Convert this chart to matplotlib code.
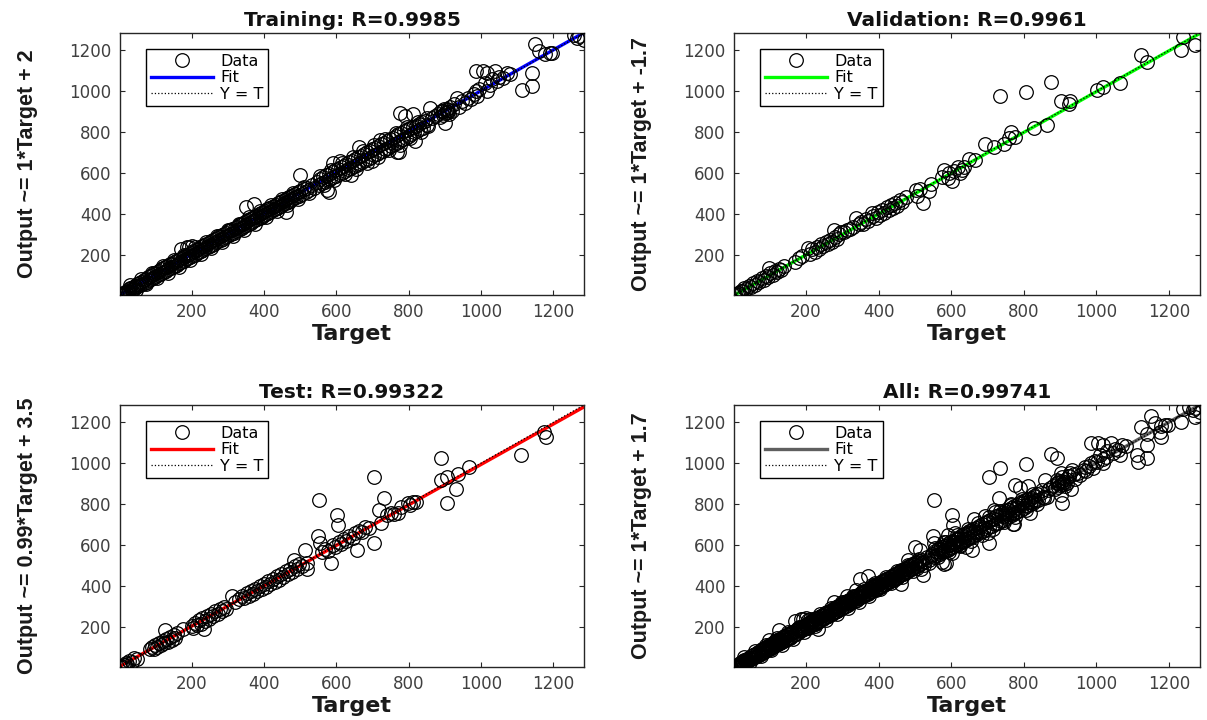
import numpy as np
import matplotlib
matplotlib.use("Agg")
import matplotlib.pyplot as plt
from matplotlib import font_manager

# ---------------- data ----------------
panel_titles = ["Training: R=0.9985", "Validation: R=0.9961", "Test: R=0.99322", "All: R=0.99741"]
ylabels = ["Output ~= 1*Target + 2", "Output ~= 1*Target + -1.7",
           "Output ~= 0.99*Target + 3.5", "Output ~= 1*Target + 1.7"]
fit_slopes = [1.0, 1.0, 0.99, 1.0]
fit_intercepts = [2.0, -1.7, 3.5, 1.7]
fit_colors = ["#0000ff", "#00ff00", "#ff0000", "#5f5f5f"]
tick_values = [200, 400, 600, 800, 1000, 1200]
axis_limits = [2, 1285]

train_pairs = [
    (2, 1), (4, 6), (6, 3), (8, 9), (10, 5), (12, 13), (14, 9), (16, 18), (18, 12), (20, 22),
    (23, 17), (26, 30), (28, 22), (31, 35), (34, 28), (37, 42), (40, 33), (43, 48), (46, 40), (49, 55),
    (52, 45), (55, 60), (58, 50), (61, 68), (64, 57), (67, 74), (70, 62), (73, 82), (76, 68), (79, 88),
    (82, 74), (85, 94), (88, 80), (91, 100), (94, 86), (97, 108), (100, 92), (103, 114), (106, 98), (109, 120),
    (112, 103), (115, 128), (118, 110), (121, 134), (124, 115), (127, 140), (130, 120), (133, 146), (136, 128), (139, 152),
    (142, 132), (145, 156), (148, 138), (151, 162), (154, 145), (157, 168), (160, 150), (163, 172), (166, 157), (169, 178),
    (171, 228), (186, 238), (193, 236), (200, 243),
    (172, 165), (175, 186), (178, 170), (181, 192), (184, 176), (187, 198), (190, 182), (193, 205), (196, 188), (199, 210),
    (202, 195), (205, 216), (208, 200), (211, 222), (214, 206), (217, 228), (220, 212), (223, 235), (226, 218), (229, 241),
    (232, 224), (235, 247), (238, 230), (241, 252), (244, 236), (247, 258), (250, 242), (253, 265), (256, 248), (259, 270),
    (262, 254), (265, 276), (268, 260), (271, 283), (274, 266), (277, 289), (280, 272), (283, 295), (286, 278), (289, 301),
    (292, 284), (295, 307), (298, 290), (301, 313), (304, 296), (307, 319), (310, 302), (313, 325), (316, 308), (319, 331),
    (322, 314), (325, 337), (328, 320), (331, 343), (334, 326), (337, 349), (340, 332), (343, 355), (346, 338), (349, 361),
    (352, 344), (355, 367), (358, 350), (361, 373), (364, 356), (367, 379), (370, 362), (373, 385), (376, 368), (379, 391),
    (382, 374), (385, 397), (388, 380), (391, 403), (394, 386), (397, 409), (400, 392), (403, 415), (406, 398), (409, 421),
    (412, 404), (415, 427), (418, 410), (421, 433), (424, 416), (427, 439), (430, 422), (433, 445), (436, 428), (439, 451),
    (442, 434), (445, 457), (448, 440), (451, 463), (454, 446), (457, 469), (460, 452), (463, 475), (466, 458), (469, 481),
    (472, 464), (475, 487), (478, 470), (481, 493), (484, 476), (487, 499), (490, 482), (493, 505), (496, 488), (500, 510),
    (505, 498), (510, 520), (515, 508), (520, 528), (525, 516), (532, 540), (538, 528),
    (30, 50), (45, 28), (60, 82), (75, 55), (90, 112), (105, 85), (120, 142), (135, 112), (150, 172), (165, 140),
    (180, 200), (195, 172), (210, 235), (225, 202), (240, 262), (255, 232), (270, 292), (285, 262), (300, 322), (315, 292),
    (330, 352), (345, 322), (360, 382), (375, 352), (390, 412), (405, 382), (420, 442), (435, 412), (450, 472), (465, 442),
    (480, 502), (495, 472), (510, 532), (525, 502),
    (350, 433), (372, 450), (462, 408), (500, 590),
    (548, 555), (552, 540), (556, 570), (560, 550), (564, 578), (568, 556), (572, 588), (576, 564), (580, 595), (584, 572),
    (588, 602), (592, 578), (596, 612), (600, 585), (604, 620), (608, 594), (612, 628), (616, 600), (620, 636), (624, 610),
    (628, 645), (632, 618), (636, 652), (640, 625), (644, 660), (648, 632), (652, 668), (656, 640), (660, 676), (664, 648),
    (668, 684), (672, 655), (676, 692), (680, 662), (684, 700), (688, 670), (692, 708), (696, 678), (700, 716), (704, 686),
    (708, 724), (712, 694), (716, 732), (720, 700), (724, 740), (728, 708), (732, 748), (736, 716), (740, 756), (744, 724),
    (748, 764), (752, 732), (756, 772), (760, 740), (764, 780), (768, 748), (772, 788), (776, 756), (780, 796), (784, 764),
    (788, 804), (792, 772), (796, 812), (800, 780), (804, 818), (808, 790), (812, 826), (816, 798), (820, 832), (824, 806),
    (828, 840), (832, 814), (836, 848), (840, 822), (846, 852), (852, 836),
    (555, 585), (565, 540), (585, 615), (595, 565), (615, 650), (625, 595), (645, 680), (655, 620), (675, 705), (685, 650),
    (705, 735), (715, 680), (735, 765), (745, 710), (765, 795), (775, 735), (795, 825), (805, 770), (825, 850), (835, 800),
    (850, 870), (855, 830),
    (574, 515), (579, 507), (590, 647), (610, 660), (640, 590), (663, 729), (700, 660), (720, 760), (769, 703), (774, 700),
    (775, 893), (790, 880), (812, 890), (817, 757),
    (859, 917), (866, 870), (872, 880), (880, 890), (886, 876), (890, 905), (895, 885), (901, 844), (905, 915), (910, 900),
    (895, 905), (900, 895), (905, 900), (910, 910), (898, 915), (912, 890),
    (915, 925), (920, 905), (925, 935), (933, 967), (940, 925), (948, 950), (955, 940), (965, 967), (972, 960), (980, 985),
    (986, 1000), (990, 975), (995, 1010), (986, 1098), (1005, 1098), (1018, 1090), (1018, 1000), (1010, 1040), (1025, 1030), (1030, 1060),
    (1039, 1098), (1045, 1050), (1050, 1070), (1060, 1065), (1071, 1090), (1080, 1085),
    (1113, 1008), (1140, 1024), (1140, 1090), (1150, 1231), (1161, 1197), (1177, 1180), (1190, 1185), (1197, 1189),
    (1256, 1276), (1272, 1271), (1285, 1250), (1265, 1262),
]

val_pairs = [
    (3, 3), (6, 8), (9, 5), (12, 14), (15, 11), (20, 22), (25, 20), (30, 34), (35, 30), (42, 45),
    (48, 40), (55, 60), (60, 52), (66, 70), (72, 64), (78, 84), (84, 76), (90, 95), (96, 88), (97, 136),
    (102, 108), (108, 100), (114, 120), (120, 114), (126, 130), (132, 126), (140, 144), (171, 165), (181, 181), (190, 195),
    (207, 232), (212, 205), (218, 225), (224, 214), (230, 238), (236, 228), (242, 252), (248, 240), (254, 262), (260, 250),
    (266, 272), (272, 262), (276, 322), (280, 288), (286, 276), (292, 300), (297, 309), (305, 312), (312, 320), (320, 325),
    (330, 335), (339, 381), (345, 350), (352, 360), (358, 348), (365, 372), (372, 362), (381, 405), (385, 390), (392, 380),
    (398, 410), (404, 395), (410, 420), (416, 405), (422, 432), (428, 418), (434, 445), (440, 430), (446, 452), (452, 440),
    (458, 465), (465, 455), (475, 480), (502, 518), (507, 486), (515, 520), (523, 453), (539, 510), (545, 545), (576, 582),
    (581, 614), (590, 575), (595, 600), (602, 558), (608, 610), (618, 630), (623, 598), (630, 615), (634, 630), (649, 670),
    (665, 665), (692, 739), (718, 726), (744, 742), (734, 975), (760, 771), (765, 799), (776, 775), (805, 996), (828, 820),
    (865, 836), (876, 1043), (902, 951), (923, 935), (928, 951), (1002, 1007), (1018, 1023), (1065, 1039), (1123, 1179), (1139, 1141),
    (1234, 1200), (1239, 1264), (1271, 1224),
]

test_pairs = [
    (3, 2), (6, 8), (9, 4), (12, 14), (15, 10), (18, 20), (22, 16), (28, 30), (34, 28), (42, 45),
    (48, 40), (85, 92), (90, 100), (95, 88), (100, 110), (105, 98), (110, 118), (115, 108), (120, 128), (126, 181),
    (125, 118), (130, 138), (135, 126), (140, 148), (145, 135), (150, 158), (155, 145), (160, 168), (177, 189), (200, 205),
    (205, 195), (210, 218), (215, 208), (220, 230), (225, 215), (230, 240), (234, 189), (236, 228), (242, 250), (248, 238),
    (254, 262), (260, 250), (266, 274), (272, 262), (278, 286), (284, 275), (290, 298), (296, 288), (312, 350), (320, 322),
    (332, 334), (340, 350), (346, 338), (352, 362), (358, 348), (364, 374), (370, 358), (376, 386), (382, 372), (388, 398),
    (394, 384), (400, 410), (406, 396), (412, 422), (418, 408), (424, 434), (430, 420), (436, 446), (442, 430), (448, 458),
    (454, 445), (460, 470), (466, 455), (472, 482), (478, 468), (482, 528), (485, 495), (492, 482), (498, 508), (505, 498),
    (513, 577), (518, 480), (520, 510), (549, 642), (552, 820), (554, 609), (560, 565), (570, 580), (578, 570), (585, 512),
    (590, 598), (596, 588), (601, 744), (604, 698), (608, 612), (614, 604), (620, 630), (628, 620), (636, 645), (645, 635),
    (652, 660), (658, 577), (662, 670), (672, 665), (680, 688), (690, 685), (704, 609), (704, 933), (718, 771), (724, 706),
    (731, 828), (740, 745), (750, 755), (760, 752), (771, 755), (780, 785), (797, 804), (805, 795), (812, 812), (820, 808),
    (890, 1027), (890, 917), (906, 933), (906, 804), (931, 876), (937, 949), (968, 981), (1112, 1038), (1174, 1155), (1179, 1127),
]

all_pairs = train_pairs + val_pairs + test_pairs
panel_data = [train_pairs, val_pairs, test_pairs, all_pairs]

# ---------------- style ----------------
plt.rcParams['font.family'] = ['DejaVu Sans']
names = {f.name for f in font_manager.fontManager.ttflist}
if 'Liberation Sans Narrow' in names:
    ylab_font = dict(family=['Liberation Sans Narrow', 'DejaVu Sans'], size=16, weight='bold')
else:
    ylab_font = dict(family=['Liberation Sans', 'DejaVu Sans'], size=15.5, weight='bold')

W, H = 1207, 720
fig = plt.figure(figsize=(W / 100, H / 100), dpi=100)

# axes boxes in pixels: (left, top, right, bottom)
boxes = [(120, 33, 584, 295), (734, 33, 1200, 295), (120, 405, 584, 667), (734, 405, 1200, 667)]

spine_col = '#262626'
tick_col = '#404040'

for i in range(4):
    l, t, r, b = boxes[i]
    ax = fig.add_axes([l / W, 1 - b / H, (r - l) / W, (b - t) / H])
    pairs = panel_data[i]
    tx = np.array([p[0] for p in pairs], dtype=float)
    oy = np.array([p[1] for p in pairs], dtype=float)

    lim = np.array(axis_limits, dtype=float)
    ax.plot(lim, fit_slopes[i] * lim + fit_intercepts[i], color=fit_colors[i], lw=2.4,
            zorder=2, label='Fit')
    ax.plot(tx, oy, 'o', ms=9.8, mfc='none', mec='black', mew=0.9, zorder=3, label='Data')
    ax.plot(lim, lim, ':', color='black', lw=0.9, zorder=4, label='Y = T')

    ax.set_xlim(*axis_limits)
    ax.set_ylim(*axis_limits)
    ax.set_xticks(tick_values)
    ax.set_yticks(tick_values)
    ax.tick_params(direction='in', length=3.5, width=0.8, top=True, right=True,
                   labelsize=12, labelcolor=tick_col, color=spine_col, pad=6)
    for s in ax.spines.values():
        s.set_color(spine_col)
        s.set_linewidth(1.0)

    ax.set_title(panel_titles[i], fontsize=14.5, fontweight='bold', pad=5, color='#111111')
    ax.set_xlabel('Target', fontsize=16, fontweight='bold', color='#1a1a1a')
    ax.xaxis.set_label_coords(0.5, -0.11)
    ax.set_ylabel(ylabels[i], color='#1a1a1a', **ylab_font)
    ax.yaxis.set_label_coords(-0.177, 0.5)

    h, lb = ax.get_legend_handles_labels()
    order = [1, 0, 2]
    leg = ax.legend([h[k] for k in order], [lb[k] for k in order], loc='upper left',
                    bbox_to_anchor=(0.056, 0.94), borderaxespad=0, fancybox=False,
                    edgecolor='black', framealpha=1, fontsize=11.5, numpoints=1,
                    handlelength=3.9, handletextpad=0.45, labelspacing=0.1,
                    borderpad=0.3)
    leg.get_frame().set_linewidth(1.0)
    leg.set_zorder(10)

fig.savefig('out.png', dpi=100)
